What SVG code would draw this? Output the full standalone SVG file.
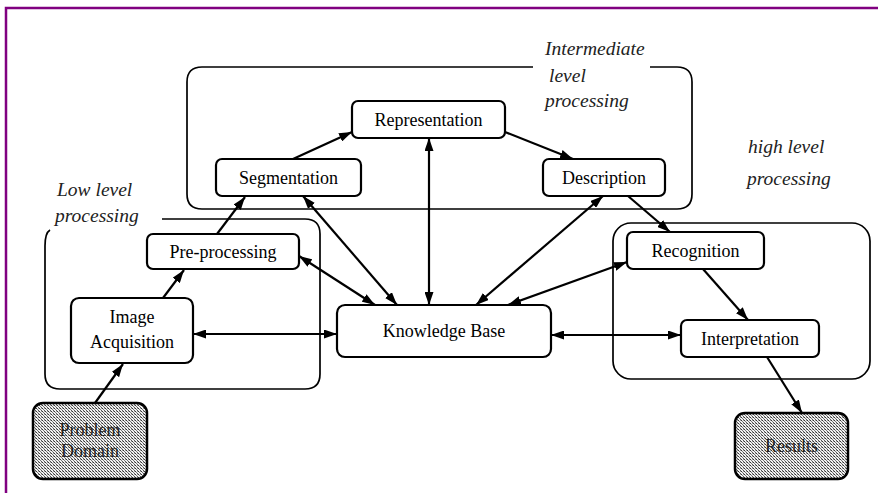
<svg xmlns="http://www.w3.org/2000/svg" width="878" height="493" viewBox="0 0 878 493">
<style>
.node rect{fill:#fff;stroke:#000;stroke-width:2.2}
.shade rect{fill:url(#dots);stroke:#000;stroke-width:2.5}
.lbl{font-family:"Liberation Serif","Times New Roman",serif;font-size:18px;fill:#000;text-anchor:middle}
.slbl{font-family:"Liberation Serif","Times New Roman",serif;font-size:18px;fill:#222;text-anchor:middle}
.grp{fill:none;stroke:#000;stroke-width:1.7}
.it{font-family:"Liberation Serif","Times New Roman",serif;font-style:italic;font-size:19.5px;fill:#222}
.conn path{fill:none;stroke:#000;stroke-width:2.2}
.one{marker-end:url(#ah)}
.two{marker-end:url(#ah);marker-start:url(#ah)}
</style>
<defs>
<marker id="ah" viewBox="0 0 13 9" refX="13" refY="4.5" markerUnits="userSpaceOnUse" markerWidth="13" markerHeight="9" orient="auto-start-reverse">
<path d="M0,0 L13,4.5 L0,9 z" fill="#000"/>
</marker>
<pattern id="dots" width="3" height="3" patternUnits="userSpaceOnUse">
<rect width="3" height="3" fill="#f2f2f2"/>
<rect x="0" y="0" width="1" height="1" fill="#333"/>
<rect x="1" y="1" width="1" height="1" fill="#777"/>
<rect x="2" y="2" width="1" height="1" fill="#555"/>
<rect x="2" y="0" width="1" height="1" fill="#aaa"/>
</pattern>
</defs>
<rect width="878" height="493" fill="#fff"/>
<path d="M6,493 L6,8 L878,8" fill="none" stroke="#800080" stroke-width="2.5"/>

<g id="groups">
<path class="grp" d="M533,67 L202,67 Q187,67 187,82 L187,194 Q187,209 202,209 L677,209 Q692,209 692,194 L692,82 Q692,67 677,67 L650,67"/>
<path class="grp" d="M50,230 Q45,233 45,246 L45,374 Q45,389 60,389 L305,389 Q320,389 320,374 L320,234 Q320,219 305,219 L162,219"/>
<rect class="grp" x="613" y="223" width="257" height="156" rx="18"/>
<text class="it" x="545" y="55">Intermediate</text>
<text class="it" x="549" y="82">level</text>
<text class="it" x="545" y="107">processing</text>
<text class="it" x="57" y="196">Low level</text>
<text class="it" x="55" y="222">processing</text>
<text class="it" x="748" y="153">high level</text>
<text class="it" x="747" y="185">processing</text>
</g>

<g id="connectors" class="conn">
<path class="one" d="M95,403 L123,364"/>
<path class="one" d="M163,298 L184,270"/>
<path class="one" d="M217,234 L245,197"/>
<path class="one" d="M293,159 L352,132"/>
<path class="one" d="M505,132 L573,159"/>
<path class="one" d="M628,196 L670,232"/>
<path class="one" d="M703,269 L748,320"/>
<path class="one" d="M767,357 L802,413"/>
<path class="two" d="M193,334 L337,334"/>
<path class="two" d="M299,256 L375,305"/>
<path class="two" d="M303,196 L397,305"/>
<path class="two" d="M429,138 L429,305"/>
<path class="two" d="M603,196 L476,305"/>
<path class="two" d="M627,262 L508,305"/>
<path class="two" d="M551,335 L681,335"/>
</g>

<g id="representation" class="node"><rect x="352" y="101" width="153" height="37" rx="6"/><text class="lbl" x="428.5" y="125.5">Representation</text></g>
<g id="segmentation" class="node"><rect x="216" y="159" width="145" height="37" rx="6"/><text class="lbl" x="288.5" y="183.5">Segmentation</text></g>
<g id="description" class="node"><rect x="543" y="159" width="122" height="37" rx="6"/><text class="lbl" x="604" y="183.5">Description</text></g>
<g id="preprocessing" class="node"><rect x="147" y="234" width="152" height="35" rx="6"/><text class="lbl" x="223" y="257.5">Pre-processing</text></g>
<g id="imageacquisition" class="node"><rect x="71" y="298" width="122" height="65" rx="8"/><text class="lbl" x="132" y="323">Image</text><text class="lbl" x="132" y="348">Acquisition</text></g>
<g id="knowledgebase" class="node"><rect x="337" y="305" width="214" height="52" rx="8"/><text class="lbl" x="444" y="337">Knowledge Base</text></g>
<g id="recognition" class="node"><rect x="627" y="232" width="137" height="37" rx="6"/><text class="lbl" x="695.5" y="256.5">Recognition</text></g>
<g id="interpretation" class="node"><rect x="681" y="320" width="138" height="37" rx="6"/><text class="lbl" x="750" y="344.5">Interpretation</text></g>
<g id="problemdomain" class="shade"><rect x="33" y="403" width="114" height="76" rx="10"/><text class="slbl" x="90" y="436">Problem</text><text class="slbl" x="90" y="457">Domain</text></g>
<g id="results" class="shade"><rect x="735" y="413" width="113" height="66" rx="10"/><text class="slbl" x="791.5" y="452">Results</text></g>
</svg>
